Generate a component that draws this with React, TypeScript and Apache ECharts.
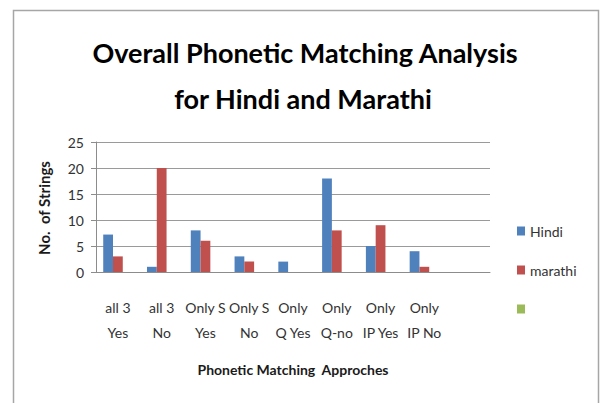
import React, { useEffect, useRef } from "react";
import * as echarts from "echarts";

const categories = [
  "all 3\nYes",
  "all 3\nNo",
  "Only S\nYes",
  "Only S\nNo",
  "Only\nQ Yes",
  "Only\nQ-no",
  "Only\nIP Yes",
  "Only\nIP No",
  "",
];
const hindi = [7.2, 1, 8, 3, 2, 18, 5, 4, null];
const marathi = [3, 20, 6, 2, 0, 8, 9, 1, null];
const third: (number | null)[] = [null, null, null, null, null, null, null, null, null];
const yTicks = { min: 0, max: 25, interval: 5 };
const titleLines = ["Overall Phonetic Matching Analysis", "for Hindi and Marathi"];
const xName = "Phonetic Matching  Approches";
const yName = "No.  of Strings";

const FONT = "Lato, 'Open Sans', sans-serif";

export default function App() {
  const ref = useRef<HTMLDivElement>(null);
  useEffect(() => {
    if (!ref.current) return;
    const chart = echarts.init(ref.current, null, { renderer: "svg" });
    chart.setOption({
      animation: false,
      backgroundColor: "#ffffff",
      textStyle: { fontFamily: FONT },
      grid: { left: 96, right: 110, top: 142, bottom: 131, containLabel: false },
      legend: {
        orient: "vertical",
        left: 512,
        top: 219,
        itemWidth: 8,
        itemHeight: 9,
        itemGap: 25,
        icon: "rect",
        textStyle: { fontFamily: FONT, fontSize: 14, color: "#333" },
        data: ["Hindi", "marathi", " "],
      },
      xAxis: {
        type: "category",
        data: categories,
        axisLine: { lineStyle: { color: "#8c8c8c", width: 1 } },
        axisTick: { show: false },
        axisLabel: {
          interval: 0,
          margin: 23,
          fontSize: 14,
          lineHeight: 25,
          color: "#333",
          fontFamily: FONT,
        },
      },
      yAxis: {
        type: "value",
        min: yTicks.min,
        max: yTicks.max,
        interval: yTicks.interval,
        axisLine: { show: true, lineStyle: { color: "#8c8c8c" } },
        axisTick: { show: true, length: 5, lineStyle: { color: "#8c8c8c" } },
        axisLabel: { fontSize: 14, color: "#333", margin: 12, fontFamily: FONT },
        splitLine: { lineStyle: { color: "#9a9a9a", width: 1.2 } },
      },
      series: [
        {
          name: "Hindi",
          type: "bar",
          data: hindi,
          barGap: "0%",
          barCategoryGap: "33%",
          itemStyle: { color: "#4f81bd" },
        },
        {
          name: "marathi",
          type: "bar",
          data: marathi,
          barGap: "0%",
          barCategoryGap: "33%",
          itemStyle: { color: "#c0504d" },
        },
        {
          name: " ",
          type: "bar",
          data: third,
          barGap: "0%",
          barCategoryGap: "33%",
          itemStyle: { color: "#9bbb59" },
        },
      ],
      graphic: [
        {
          type: "rect",
          shape: { x: 13.5, y: 10.5, width: 585, height: 420 },
          style: { fill: "none", stroke: "#a6a6a6", lineWidth: 1.5 },
          z: 100,
        },
        {
          type: "text",
          x: 305,
          y: 52,
          style: {
            text: titleLines[0],
            font: `bold 27px ${FONT}`,
            fill: "#000",
            textAlign: "center",
            textVerticalAlign: "middle",
          },
        },
        {
          type: "text",
          x: 303,
          y: 98,
          style: {
            text: titleLines[1],
            font: `bold 27px ${FONT}`,
            fill: "#000",
            textAlign: "center",
            textVerticalAlign: "middle",
          },
        },
        {
          type: "text",
          x: 293,
          y: 369,
          style: {
            text: xName,
            font: `bold 14px ${FONT}`,
            fill: "#1a1a1a",
            textAlign: "center",
            textVerticalAlign: "middle",
          },
        },
        {
          type: "text",
          x: 44,
          y: 208,
          rotation: Math.PI / 2,
          style: {
            text: yName,
            font: `bold 15px ${FONT}`,
            fill: "#1a1a1a",
            textAlign: "center",
            textVerticalAlign: "middle",
          },
        },
      ],
    });
    return () => chart.dispose();
  }, []);
  return <div ref={ref} style={{ width: 600, height: 403, position: "absolute", left: 0, top: 0 }} />;
}
